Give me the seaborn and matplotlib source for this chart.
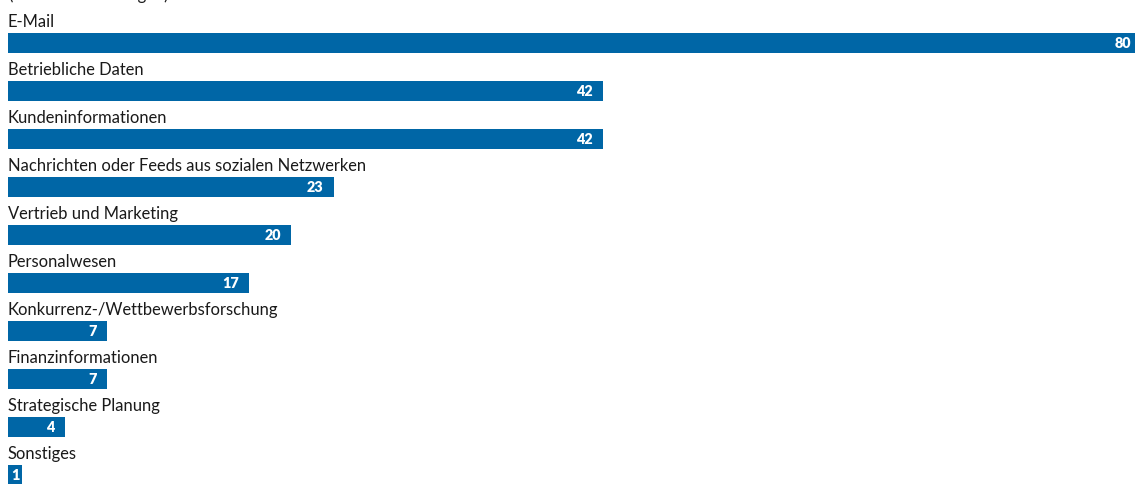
import matplotlib
matplotlib.use("Agg")
import matplotlib.pyplot as plt
import seaborn as sns

categories = [
    "E-Mail",
    "Betriebliche Daten",
    "Kundeninformationen",
    "Nachrichten oder Feeds aus sozialen Netzwerken",
    "Vertrieb und Marketing",
    "Personalwesen",
    "Konkurrenz-/Wettbewerbsforschung",
    "Finanzinformationen",
    "Strategische Planung",
    "Sonstiges",
]
values = [80, 42, 42, 23, 20, 17, 7, 7, 4, 1]
subtitle = "(Mehrfachnennungen)"

BLUE = "#0066a6"
TEXT = "#1a1a1a"

sns.set_theme(style="white")
plt.rcParams["font.family"] = ["Lato", "DejaVu Sans"]

W, H, DPI = 1135, 484, 100
fig = plt.figure(figsize=(W / DPI, H / DPI), dpi=DPI)
ax = fig.add_axes([0, 0, 1, 1])

# pixel geometry of the rows
x0_px, px_per_unit = 7.83, 14.17
row0_px, row_step_px, bar_px = 43.0, 48.0, 20.0
bar_w = bar_px / row_step_px

sns.barplot(x=values, y=categories, orient="h", color=BLUE, width=bar_w,
            saturation=1, linewidth=0, ax=ax)

ax.set_xlim(-x0_px / px_per_unit, (W - x0_px) / px_per_unit)
ax.set_ylim((H - row0_px) / row_step_px, -row0_px / row_step_px)
ax.axis("off")

fs = 11.9
for i, (cat, v) in enumerate(zip(categories, values)):
    ax.text(0, i - bar_w / 2 - 6 / row_step_px, cat, ha="left", va="baseline",
            fontsize=fs, color=TEXT)
    if v * px_per_unit > 25:
        ax.annotate(str(v), xy=(v, i), xytext=(-7.2, -0.3), textcoords="offset points",
                    ha="right", va="center", fontsize=10.4, fontweight="heavy",
                    color="white", annotation_clip=False)
    else:
        ax.annotate(str(v), xy=(0, i), xytext=(2.2, -0.3), textcoords="offset points",
                    ha="left", va="center", fontsize=10.4, fontweight="heavy",
                    color="white", annotation_clip=False)

ax.text(0, (-0.5 - row0_px) / row_step_px, subtitle, ha="left", va="baseline",
        fontsize=fs, color=TEXT)

fig.savefig("out.png", dpi=DPI)
